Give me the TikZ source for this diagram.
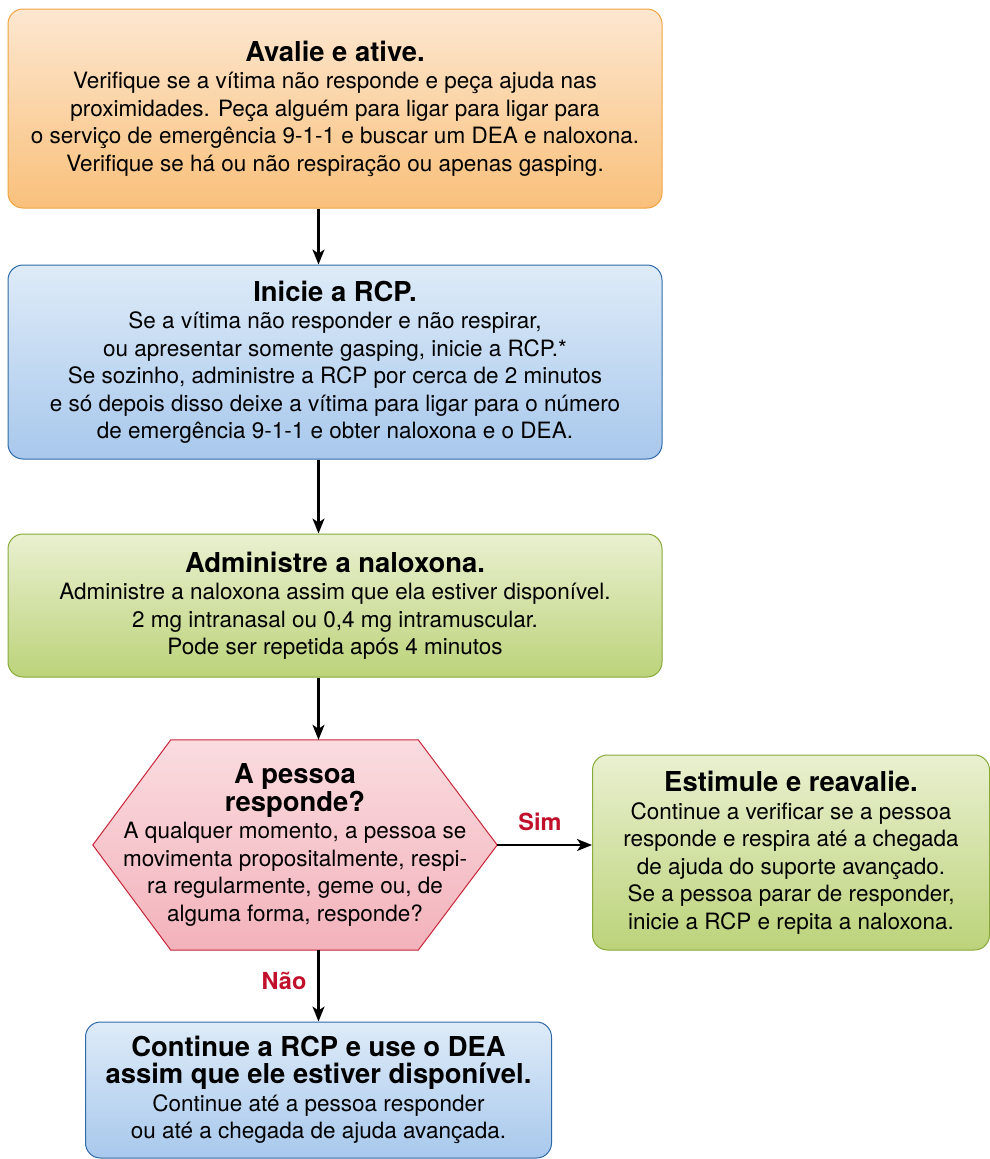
\documentclass[tikz,border=0pt]{standalone}
\usepackage{fontspec}
\setmainfont{TeX Gyre Heros}
\usetikzlibrary{arrows.meta}
\definecolor{orT}{HTML}{FDE7D0}
\definecolor{orB}{HTML}{F9C07B}
\definecolor{orD}{HTML}{EFA440}
\definecolor{blT}{HTML}{DEEBF8}
\definecolor{blB}{HTML}{A8C8EC}
\definecolor{blD}{HTML}{2F6AA8}
\definecolor{grT}{HTML}{E9F0D0}
\definecolor{grB}{HTML}{BCD37A}
\definecolor{grD}{HTML}{88AA3A}
\definecolor{pkT}{HTML}{FADCE0}
\definecolor{pkB}{HTML}{F3B2BB}
\definecolor{pkD}{HTML}{C8243A}
\definecolor{lblred}{HTML}{C0102C}
\tikzset{
  box/.style={rounded corners=15pt, line width=1pt, align=center, inner sep=0pt,
    font=\fontsize{22.5}{27.5}\selectfont},
  orbox/.style={box, draw=orD, top color=orT, bottom color=orB},
  blbox/.style={box, draw=blD, top color=blT, bottom color=blB},
  grbox/.style={box, draw=grD, top color=grT, bottom color=grB},
  conn/.style={line width=2.2pt, -{Stealth[length=15pt,width=12pt,inset=4pt]}},
  lbl/.style={font=\fontsize{23.5}{24}\selectfont\bfseries, text=lblred},
}
\newcommand{\ttl}[1]{{\fontsize{27.4}{27.5}\selectfont\bfseries #1}}
\begin{document}
\begin{tikzpicture}[x=1pt,y=-1pt]
\useasboundingbox (0,0) rectangle (990,1159);
\node[orbox, minimum width=654pt, minimum height=199pt] (a) at (335,108.5)
 {\ttl{Avalie e ative.}\\
  Verifique se a vítima não responde e peça ajuda nas\\
  proximidades. Peça alguém para ligar para ligar para\\
  o serviço de emergência 9-1-1 e buscar um DEA e naloxona.\\
  Verifique se há ou não respiração ou apenas gasping.};
\node[blbox, minimum width=654pt, minimum height=194pt] (b) at (335,362)
 {\ttl{Inicie a RCP.}\\
  Se a vítima não responder e não respirar,\\
  ou apresentar somente gasping, inicie a RCP.*\\
  Se sozinho, administre a RCP por cerca de 2 minutos\\
  e só depois disso deixe a vítima para ligar para o número\\
  de emergência 9-1-1 e obter naloxona e o DEA.};
\node[grbox, minimum width=654pt, minimum height=143pt] (c) at (335,605.5)
 {\ttl{Administre a naloxona.}\\
  Administre a naloxona assim que ela estiver disponível.\\
  2 mg intranasal ou 0,4 mg intramuscular.\\
  Pode ser repetida após 4 minutos};
% hexagon
\node[minimum width=404pt, minimum height=210pt, inner sep=0pt] (d) at (295,845) {};
\shade[top color=pkT, bottom color=pkB, draw=pkD, line width=1pt]
  (d.west) -- ([xshift=78pt]d.north west) -- ([xshift=-79pt]d.north east) -- (d.east)
  -- ([xshift=-79pt]d.south east) -- ([xshift=78pt]d.south west) -- cycle;
\node[align=center, font=\fontsize{22.5}{27.5}\selectfont] (dt) at (d.center)
 {\ttl{A pessoa}\\ \ttl{responde?}\\
  A qualquer momento, a pessoa se\\
  movimenta propositalmente, respi-\\
  ra regularmente, geme ou, de\\
  alguma forma, responde?};
\node[grbox, minimum width=397pt, minimum height=195pt] (e) at (791,852.5)
 {\ttl{Estimule e reavalie.}\\
  Continue a verificar se a pessoa\\
  responde e respira até a chegada\\
  de ajuda do suporte avançado.\\
  Se a pessoa parar de responder,\\
  inicie a RCP e repita a naloxona.};
\node[blbox, minimum width=466pt, minimum height=136pt] (f) at (318.5,1090)
 {\ttl{Continue a RCP e use o DEA}\\
  \ttl{assim que ele estiver disponível.}\\
  Continue até a pessoa responder\\
  ou até a chegada de ajuda avançada.};
\draw[conn] (a.south -| f.north) -- (b.north -| f.north);
\draw[conn] (b.south -| f.north) -- (c.north -| f.north);
\draw[conn] (c.south -| f.north) -- (d.north -| f.north);
\draw[conn] (d.south -| f.north) -- (f.north);
\draw[conn] (d.east) -- (d.east -| e.west);
\node[lbl] (sim) at (540,822) {Sim};
\node[lbl] (nao) at (284,981) {Não};
\end{tikzpicture}
\end{document}
